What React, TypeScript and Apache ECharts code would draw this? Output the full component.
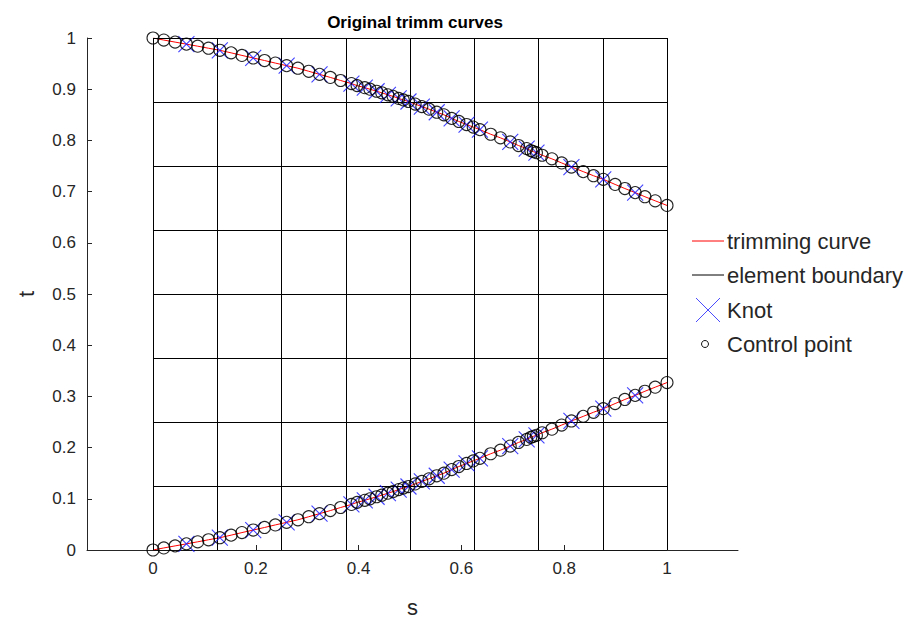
import React, { useEffect, useRef } from "react";
import * as echarts from "echarts";

// Control points of the upper trimming curve (s, t)
const topS = [0, 0.021, 0.043, 0.065, 0.087, 0.108, 0.13, 0.152, 0.173, 0.195, 0.217, 0.238, 0.26, 0.282, 0.303, 0.324, 0.345, 0.365, 0.386, 0.397, 0.412, 0.422, 0.435, 0.445, 0.457, 0.467, 0.478, 0.487, 0.497, 0.51, 0.523, 0.537, 0.552, 0.566, 0.581, 0.595, 0.61, 0.623, 0.636, 0.657, 0.676, 0.695, 0.711, 0.727, 0.735, 0.74, 0.746, 0.757, 0.776, 0.795, 0.814, 0.837, 0.857, 0.876, 0.899, 0.918, 0.938, 0.957, 0.977, 1.0];
const topT = [1.0, 0.996, 0.992, 0.988, 0.984, 0.98, 0.976, 0.971, 0.966, 0.961, 0.956, 0.951, 0.946, 0.941, 0.935, 0.929, 0.923, 0.917, 0.911, 0.907, 0.903, 0.9, 0.896, 0.893, 0.889, 0.886, 0.882, 0.879, 0.876, 0.871, 0.866, 0.861, 0.855, 0.85, 0.843, 0.837, 0.831, 0.826, 0.821, 0.812, 0.805, 0.797, 0.79, 0.784, 0.78, 0.778, 0.776, 0.771, 0.764, 0.756, 0.748, 0.739, 0.731, 0.724, 0.714, 0.706, 0.698, 0.69, 0.682, 0.673];

// Control points of the lower trimming curve (s, t)
const botS = [0, 0.021, 0.043, 0.065, 0.087, 0.108, 0.13, 0.152, 0.173, 0.195, 0.217, 0.238, 0.26, 0.282, 0.303, 0.324, 0.345, 0.365, 0.386, 0.397, 0.412, 0.422, 0.435, 0.445, 0.457, 0.467, 0.478, 0.487, 0.497, 0.51, 0.523, 0.537, 0.552, 0.566, 0.581, 0.595, 0.61, 0.623, 0.636, 0.657, 0.676, 0.695, 0.711, 0.727, 0.735, 0.74, 0.746, 0.757, 0.776, 0.795, 0.814, 0.837, 0.857, 0.876, 0.899, 0.918, 0.938, 0.957, 0.977, 1.0];
const botT = [0.0, 0.004, 0.008, 0.012, 0.016, 0.02, 0.024, 0.029, 0.034, 0.039, 0.044, 0.049, 0.054, 0.059, 0.065, 0.071, 0.077, 0.083, 0.089, 0.093, 0.097, 0.1, 0.104, 0.107, 0.111, 0.114, 0.118, 0.121, 0.124, 0.129, 0.134, 0.139, 0.145, 0.15, 0.157, 0.163, 0.169, 0.174, 0.179, 0.188, 0.195, 0.203, 0.21, 0.216, 0.22, 0.222, 0.224, 0.229, 0.236, 0.244, 0.252, 0.261, 0.269, 0.276, 0.286, 0.294, 0.302, 0.31, 0.318, 0.327];

// Knots
const topKnotS = [0.065, 0.13, 0.195, 0.26, 0.324, 0.386, 0.412, 0.435, 0.457, 0.478, 0.497, 0.523, 0.552, 0.581, 0.61, 0.636, 0.695, 0.727, 0.746, 0.814, 0.876, 0.938];
const topKnotT = [0.988, 0.976, 0.961, 0.946, 0.929, 0.911, 0.903, 0.896, 0.889, 0.882, 0.876, 0.866, 0.855, 0.843, 0.831, 0.821, 0.797, 0.784, 0.776, 0.748, 0.724, 0.698];
const botKnotS = [0.065, 0.13, 0.195, 0.26, 0.324, 0.386, 0.412, 0.435, 0.457, 0.478, 0.497, 0.523, 0.552, 0.581, 0.61, 0.636, 0.695, 0.727, 0.746, 0.814, 0.876, 0.938];
const botKnotT = [0.012, 0.024, 0.039, 0.054, 0.071, 0.089, 0.097, 0.104, 0.111, 0.118, 0.124, 0.134, 0.145, 0.157, 0.169, 0.179, 0.203, 0.216, 0.224, 0.252, 0.276, 0.302];

// Element boundaries (same in s and t)
const boundaryValues = [0, 0.125, 0.25, 0.375, 0.5, 0.625, 0.75, 0.875, 1];

// Tick labels
const xTicks = [0, 0.2, 0.4, 0.6, 0.8, 1];
const yTicks = [0, 0.1, 0.2, 0.3, 0.4, 0.5, 0.6, 0.7, 0.8, 0.9, 1];

const FONT = "'Liberation Sans', Arial, Helvetica, sans-serif";
const TXT = "#262626";

const pairs = (xs: number[], ys: number[]) => xs.map((x, i) => [x, ys[i]]);

export default function App() {
  const ref = useRef<HTMLDivElement>(null);
  useEffect(() => {
    document.body.style.margin = "0";
    document.body.style.overflow = "hidden";
    if (!ref.current) return;
    const chart = echarts.init(ref.current, null, { renderer: "svg" });

    const boundaryLines: any[] = [];
    boundaryValues.forEach((v) => {
      boundaryLines.push({ coords: [[v, 0], [v, 1]] });
      boundaryLines.push({ coords: [[0, v], [1, v]] });
    });

    const knotStyle = {
      symbol: "path://M0,0L10,10M10,0L0,10",
      symbolSize: 16,
      itemStyle: { color: "none", borderColor: "#1010ff", borderWidth: 1.1 },
    };
    const cpStyle = {
      symbol: "circle",
      symbolSize: 12,
      itemStyle: { color: "none", borderColor: "#000", borderWidth: 1.1, opacity: 0.85 },
    };

    const option: any = {
      animation: false,
      backgroundColor: "#fff",
      title: {
        text: "Original trimm curves",
        left: 410,
        top: 9,
        textAlign: "center",
        textStyle: { fontFamily: FONT, fontSize: 17, fontWeight: "bold", color: "#000" },
      },
      grid: { left: 87, top: 38, width: 651, height: 514, containLabel: false },
      xAxis: {
        type: "value",
        min: -0.1284,
        max: 1.1381,
        splitLine: { show: false },
        axisLine: { onZero: false, lineStyle: { color: TXT, width: 1 } },
        axisTick: { inside: true, length: 5, customValues: xTicks, lineStyle: { color: TXT } },
        axisLabel: {
          customValues: xTicks,
          margin: 10,
          fontSize: 17,
          fontFamily: FONT,
          color: TXT,
          formatter: (v: number) => String(Math.round(v * 10) / 10),
        },
        name: "s",
        nameLocation: "middle",
        nameGap: 46,
        nameTextStyle: { fontSize: 22, fontFamily: FONT, color: TXT },
      },
      yAxis: {
        type: "value",
        min: 0,
        max: 1,
        interval: 0.1,
        splitLine: { show: false },
        axisLine: { onZero: false, lineStyle: { color: TXT, width: 1 } },
        axisTick: { inside: true, length: 5, customValues: yTicks, lineStyle: { color: TXT } },
        axisLabel: {
          customValues: yTicks,
          margin: 11,
          fontSize: 17,
          fontFamily: FONT,
          color: TXT,
          formatter: (v: number) => String(Math.round(v * 10) / 10),
        },
        name: "t",
        nameLocation: "middle",
        nameGap: 50,
        nameTextStyle: { fontSize: 22, fontFamily: FONT, color: TXT },
      },
      series: [
        {
          name: "trimming curve",
          type: "line",
          data: pairs(topS, topT),
          showSymbol: false,
          lineStyle: { color: "#ff0000", width: 1 },
          z: 2,
        },
        {
          name: "trimming curve",
          type: "line",
          data: pairs(botS, botT),
          showSymbol: false,
          lineStyle: { color: "#ff0000", width: 1 },
          z: 2,
        },
        {
          name: "element boundary",
          type: "lines",
          coordinateSystem: "cartesian2d",
          data: boundaryLines,
          lineStyle: { color: "#000", width: 1, opacity: 1 },
          z: 3,
        },
        { name: "Knot", type: "scatter", data: pairs(topKnotS, topKnotT), ...knotStyle, z: 4 },
        { name: "Knot", type: "scatter", data: pairs(botKnotS, botKnotT), ...knotStyle, z: 4 },
        { name: "Control point", type: "scatter", data: pairs(topS, topT), ...cpStyle, z: 5 },
        { name: "Control point", type: "scatter", data: pairs(botS, botT), ...cpStyle, z: 5 },
      ],
      graphic: [
        { type: "line", shape: { x1: 692, y1: 241, x2: 724, y2: 241 }, style: { stroke: "#ff0000", lineWidth: 1 } },
        { type: "text", x: 727, y: 241, style: { text: "trimming curve", fontSize: 22, fontFamily: FONT, fill: TXT, verticalAlign: "middle" } },
        { type: "line", shape: { x1: 692, y1: 275, x2: 724, y2: 275 }, style: { stroke: "#000", lineWidth: 1 } },
        { type: "text", x: 727, y: 275, style: { text: "element boundary", fontSize: 22, fontFamily: FONT, fill: TXT, verticalAlign: "middle" } },
        { type: "line", shape: { x1: 696, y1: 298, x2: 720, y2: 322 }, style: { stroke: "#4a4aff", lineWidth: 1 } },
        { type: "line", shape: { x1: 720, y1: 298, x2: 696, y2: 322 }, style: { stroke: "#4a4aff", lineWidth: 1 } },
        { type: "text", x: 727, y: 310, style: { text: "Knot", fontSize: 22, fontFamily: FONT, fill: TXT, verticalAlign: "middle" } },
        { type: "circle", shape: { cx: 705, cy: 344, r: 3.5 }, style: { stroke: "#111", fill: "none", lineWidth: 1 } },
        { type: "text", x: 727, y: 344, style: { text: "Control point", fontSize: 22, fontFamily: FONT, fill: TXT, verticalAlign: "middle" } },
      ],
    };
    chart.setOption(option);
    return () => chart.dispose();
  }, []);
  return <div ref={ref} style={{ width: 916, height: 623 }} />;
}
